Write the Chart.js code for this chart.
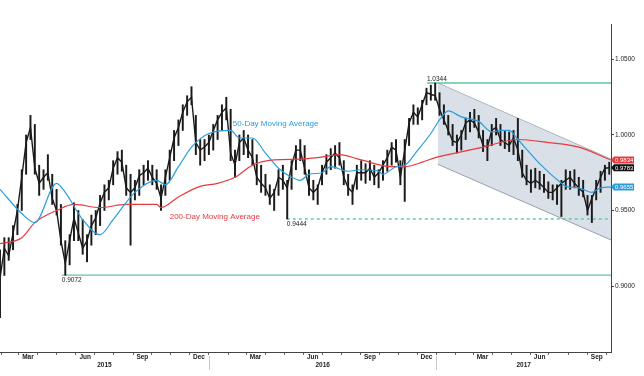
<!DOCTYPE html>
<html><head><meta charset="utf-8">
<script src="https://cdn.jsdelivr.net/npm/chart.js@4.4.1/dist/chart.umd.min.js"></script>
<style>html,body{margin:0;padding:0;background:#fff}#c{display:block}</style>
</head><body>
<canvas id="c" width="644" height="376"></canvas>
<script>
// ---- data (weekly, week 0 = 30 Jan 2015) ----
const weekHigh=[0.924,0.932,0.932,0.940,0.954,0.977,1.000,1.013,1.007,0.980,
0.977,0.987,0.974,0.964,0.954,0.930,0.934,0.955,0.950,0.944,
0.934,0.947,0.950,0.960,0.967,0.970,0.983,0.989,0.990,0.980,
0.974,0.970,0.977,0.980,0.983,0.980,0.977,0.967,0.977,0.990,
1.003,1.010,1.020,1.026,1.032,1.013,0.997,0.997,1.000,1.007,
1.013,1.020,1.025,1.017,0.990,1.000,1.003,1.000,0.997,0.987,
0.980,0.974,0.967,0.964,0.977,0.980,0.970,0.983,0.993,0.997,
0.993,0.977,0.970,0.967,0.980,0.987,0.991,0.993,0.995,0.983,
0.974,0.967,0.980,0.983,0.981,0.983,0.980,0.977,0.983,0.990,
0.995,0.997,0.983,0.997,1.011,1.020,1.018,1.023,1.031,1.033,
1.0344,1.028,1.020,1.013,1.007,1.000,1.003,1.011,1.015,1.017,
1.013,1.003,0.997,1.007,1.011,1.007,1.003,1.002,1.003,1.011,
0.990,0.980,0.977,0.978,0.976,0.974,0.969,0.967,0.967,0.970,
0.977,0.976,0.977,0.972,0.970,0.960,0.960,0.970,0.976,0.980,
0.982];
const weekLow=[0.879,0.907,0.917,0.924,0.934,0.950,0.974,0.997,0.974,0.960,
0.964,0.970,0.954,0.947,0.927,0.9072,0.914,0.930,0.930,0.921,
0.916,0.927,0.934,0.940,0.950,0.957,0.967,0.974,0.976,0.960,
0.927,0.957,0.960,0.967,0.970,0.967,0.964,0.950,0.960,0.970,
0.983,0.993,1.003,1.013,1.020,0.987,0.980,0.983,0.987,0.990,
0.997,1.003,1.010,0.983,0.972,0.983,0.987,0.985,0.980,0.967,
0.962,0.960,0.954,0.950,0.960,0.964,0.9444,0.964,0.977,0.983,
0.974,0.960,0.957,0.954,0.967,0.974,0.977,0.978,0.980,0.967,
0.960,0.954,0.964,0.970,0.968,0.970,0.967,0.965,0.970,0.976,
0.980,0.982,0.967,0.956,0.993,1.007,1.007,1.010,1.020,1.023,
1.023,1.013,1.007,1.000,0.993,0.988,0.990,0.997,1.002,1.005,
0.998,0.989,0.983,0.993,1.000,0.993,0.991,0.989,0.987,0.983,
0.972,0.967,0.962,0.965,0.964,0.962,0.958,0.957,0.954,0.946,
0.964,0.964,0.965,0.960,0.959,0.947,0.942,0.957,0.962,0.970,
0.974];
const weekClose=[0.905,0.925,0.920,0.935,0.950,0.972,0.995,1.005,0.978,0.968,
0.972,0.975,0.958,0.950,0.930,0.915,0.930,0.945,0.935,0.925,
0.930,0.940,0.945,0.955,0.962,0.965,0.978,0.985,0.982,0.965,
0.962,0.965,0.973,0.975,0.978,0.972,0.968,0.958,0.972,0.985,
0.998,1.005,1.015,1.022,1.025,0.995,0.990,0.992,0.995,1.003,
1.010,1.015,1.018,0.988,0.980,0.995,0.998,0.990,0.985,0.972,
0.968,0.965,0.958,0.962,0.972,0.970,0.965,0.980,0.990,0.990,
0.978,0.965,0.962,0.965,0.975,0.982,0.985,0.988,0.985,0.972,
0.965,0.962,0.975,0.975,0.975,0.978,0.972,0.975,0.980,0.985,
0.992,0.990,0.972,0.990,1.008,1.015,1.012,1.020,1.028,1.027,
1.026,1.017,1.010,1.003,0.996,0.995,1.000,1.008,1.010,1.008,
1.002,0.993,0.992,1.003,1.005,0.997,0.995,0.993,0.998,0.990,
0.975,0.970,0.968,0.970,0.968,0.965,0.962,0.962,0.965,0.968,
0.970,0.972,0.968,0.965,0.962,0.950,0.958,0.965,0.972,0.978,
0.9783];
const ma50Weeks=[0,5,8,13,15,19,23,26,31,36,38,41,44,48,53,55,58,61,64,67,69,71,74,76,80,83,87,88,91,93,96,99,101,103,106,110,113,115,117,119,124,129,130,133,136,138,140.4];
const ma50=[0.964,0.948,0.942,0.968,0.962,0.944,0.934,0.944,0.962,0.970,0.967,0.979,0.992,1.001,1.003,0.998,0.998,0.988,0.978,0.972,0.970,0.974,0.975,0.979,0.976,0.977,0.976,0.974,0.979,0.980,0.990,1.001,1.010,1.016,1.012,1.009,1.002,1.003,1.003,0.997,0.981,0.968,0.966,0.965,0.962,0.965,0.9655];
const ma200Weeks=[0,5,8,13,17,23,29,36,37,41,46,50,54,58,63,69,73,78,83,90,93,97,100,103,111,119,126,133,140.4];
const ma200=[0.928,0.932,0.942,0.950,0.954,0.952,0.954,0.954,0.952,0.959,0.966,0.968,0.972,0.980,0.9835,0.984,0.985,0.987,0.9835,0.979,0.979,0.982,0.985,0.987,0.992,0.997,0.995,0.992,0.9834];
const seriesNames=['50-Day Moving Average','200-Day Moving Average'];
const monthTickLabels=['Mar','Jun','Sep','Dec'];
const yearLabels=['2015','2016','2017'];
const yTickValues=[0.90,0.95,1.00,1.05];
const levelValues=[1.0344,0.9444,0.9072];
const levelStartWeeks=[98.1,65.9,14.2];
const channelWeeks=[100.6,140.4];
const channelTop=[1.0344,0.9840];
const channelBottom=[0.9806,0.9305];
const tagValues=[0.9834,0.9783,0.9655];

// ---- axis helpers ----
const FIRST_DAY=Date.UTC(2015,0,30);
const toWeek=(y,m,d)=>(Date.UTC(y,m,d)-FIRST_DAY)/604800000;
const X_MIN=0, X_MAX=140.4;
const monthStarts=[], quarterMids=[];
for(let yr=2015;yr<=2017;yr++)for(let m=0;m<12;m++){
  const w=toWeek(yr,m,1); if(w>=X_MIN&&w<=X_MAX) monthStarts.push(w);
  if(m%3===2){const c=toWeek(yr,m,16); if(c>=X_MIN&&c<=X_MAX) quarterMids.push({value:c,label:monthTickLabels[(m-2)/3]});}
}
const yearStarts=[toWeek(2016,0,1),toWeek(2017,0,1)];
const yearMids=yearLabels.map((l,i)=>{const a=Math.max(X_MIN,toWeek(2015+i,0,1)),b=Math.min(X_MAX,toWeek(2016+i,0,1));return {value:(a+b)/2,label:l};});

const FONT='"Liberation Sans", Arial, sans-serif';
Chart.defaults.font.family=FONT;

const GREEN='#5cc89f', BLUE='#2a9edb', RED='#e63a3f';
const textLabels=[
  {text:seriesNames[0],x:53.5,y:1.0073,color:BLUE,size:8,base:'middle'},
  {text:seriesNames[1],x:39.0,y:0.9457,color:RED,size:8,base:'middle'},
  {text:levelValues[0].toFixed(4),x:levelStartWeeks[0],y:levelValues[0],color:'#222',size:6.5,base:'bottom',dy:-1},
  {text:levelValues[1].toFixed(4),x:levelStartWeeks[1],y:levelValues[1],color:'#222',size:6.5,base:'top',dy:2},
  {text:levelValues[2].toFixed(4),x:levelStartWeeks[2],y:levelValues[2],color:'#222',size:6.5,base:'top',dy:2}
];
const tagStyles=[{bg:RED,fg:'#fff'},{bg:'#111',fg:'#fff'},{bg:BLUE,fg:'#fff'}];

const annot={
  id:'annot',
  afterDatasetsDraw(chart){
    const {ctx,scales:{x,y}}=chart;
    ctx.save();
    textLabels.forEach(t=>{
      ctx.font=t.size+'px '+FONT; ctx.fillStyle=t.color; ctx.textAlign='left'; ctx.textBaseline=t.base;
      ctx.fillText(t.text,x.getPixelForValue(t.x),y.getPixelForValue(t.y)+(t.dy||0));
    });
    ctx.restore();
  },
  afterDraw(chart){
    const {ctx,scales:{x,y},chartArea}=chart;
    ctx.save();
    ctx.strokeStyle='#c8c8c8'; ctx.lineWidth=1;
    yearStarts.forEach(w=>{const px=Math.round(x.getPixelForValue(w))+0.5; ctx.beginPath(); ctx.moveTo(px,chartArea.bottom+4); ctx.lineTo(px,chartArea.bottom+18); ctx.stroke();});
    tagValues.forEach((v,i)=>{
      const py=y.getPixelForValue(v), x0=chartArea.right+1, w=22, h=7;
      ctx.fillStyle=tagStyles[i].bg;
      ctx.beginPath(); ctx.moveTo(x0-1,py); ctx.lineTo(x0+2,py-h/2); ctx.lineTo(x0+w,py-h/2); ctx.lineTo(x0+w,py+h/2); ctx.lineTo(x0+2,py+h/2); ctx.closePath(); ctx.fill();
      ctx.fillStyle=tagStyles[i].fg; ctx.font='6px '+FONT; ctx.textAlign='left'; ctx.textBaseline='middle';
      ctx.fillText(v.toFixed(4),x0+3,py+0.5);
    });
    ctx.restore();
  }
};

const idx=weekHigh.map((_,i)=>i);
const levelDatasets=levelValues.map((v,i)=>({type:'line',data:[{x:levelStartWeeks[i],y:v},{x:X_MAX,y:v}],borderColor:GREEN,borderWidth:1.4,borderDash:i===1?[3,3]:[],pointRadius:0,order:15}));

new Chart(document.getElementById('c'),{
  type:'line',
  data:{datasets:[
    {type:'line',data:channelWeeks.map((w,i)=>({x:w,y:channelTop[i]})),borderColor:'#95a1ad',borderWidth:1,pointRadius:0,fill:false,order:20},
    {type:'line',data:channelWeeks.map((w,i)=>({x:w,y:channelBottom[i]})),borderColor:'#95a1ad',borderWidth:1,pointRadius:0,fill:'-1',backgroundColor:'rgba(205,214,224,0.75)',order:19},
    ...levelDatasets,
    {type:'bar',data:idx.map(i=>({x:i,y:[weekLow[i],weekHigh[i]]})),backgroundColor:'#1a1a1a',barThickness:1.3,order:5},
    {type:'line',data:idx.map(i=>({x:i,y:weekClose[i]})),borderColor:'#1a1a1a',borderWidth:1.4,pointRadius:0,tension:0,order:4},
    {type:'line',label:seriesNames[1],data:ma200Weeks.map((w,i)=>({x:w,y:ma200[i]})),borderColor:RED,borderWidth:1.2,pointRadius:0,cubicInterpolationMode:'monotone',order:2},
    {type:'line',label:seriesNames[0],data:ma50Weeks.map((w,i)=>({x:w,y:ma50[i]})),borderColor:BLUE,borderWidth:1.2,pointRadius:0,cubicInterpolationMode:'monotone',order:1}
  ]},
  options:{
    responsive:false,animation:false,events:[],
    layout:{padding:{top:24,left:0,right:0,bottom:0}},
    plugins:{legend:{display:false},tooltip:{enabled:false}},
    scales:{
      x:{type:'linear',position:'bottom',weight:0,min:X_MIN,max:X_MAX,offset:false,
        afterBuildTicks:a=>{a.ticks=monthStarts.map(v=>({value:v}));},
        ticks:{display:false},
        grid:{drawOnChartArea:false,drawTicks:true,tickLength:3,color:'#666',offset:false},
        border:{display:true,color:'#444'},
        afterFit:a=>{a.height=1;}},
      x2:{type:'linear',position:'bottom',weight:1,min:X_MIN,max:X_MAX,offset:false,
        afterBuildTicks:a=>{a.ticks=quarterMids.map(o=>({value:o.value}));},
        ticks:{autoSkip:false,maxRotation:0,padding:0,color:'#222',font:{size:6.5,weight:'bold'},callback:(v,i)=>quarterMids[i]?quarterMids[i].label:''},
        grid:{display:false,drawTicks:false},border:{display:false},
        afterFit:a=>{a.height=8;}},
      x3:{type:'linear',position:'bottom',weight:2,min:X_MIN,max:X_MAX,offset:false,
        afterBuildTicks:a=>{a.ticks=yearMids.map(o=>({value:o.value}));},
        ticks:{autoSkip:false,maxRotation:0,padding:0,color:'#222',font:{size:6.5,weight:'bold'},callback:(v,i)=>yearMids[i]?yearMids[i].label:''},
        grid:{display:false,drawTicks:false},border:{display:false},
        afterFit:a=>{a.height=15;}},
      y:{type:'linear',position:'right',min:0.8563,max:1.0735,
        afterBuildTicks:a=>{a.ticks=yTickValues.map(v=>({value:v}));},
        ticks:{autoSkip:false,padding:1,color:'#222',font:{size:6.5},callback:v=>Number(v).toFixed(4)},
        grid:{drawOnChartArea:false,drawTicks:true,tickLength:3,color:'#444'},
        border:{display:true,color:'#444'},
        afterFit:a=>{a.width=33;}}
    }
  },
  plugins:[annot]
});
</script>
</body></html>
